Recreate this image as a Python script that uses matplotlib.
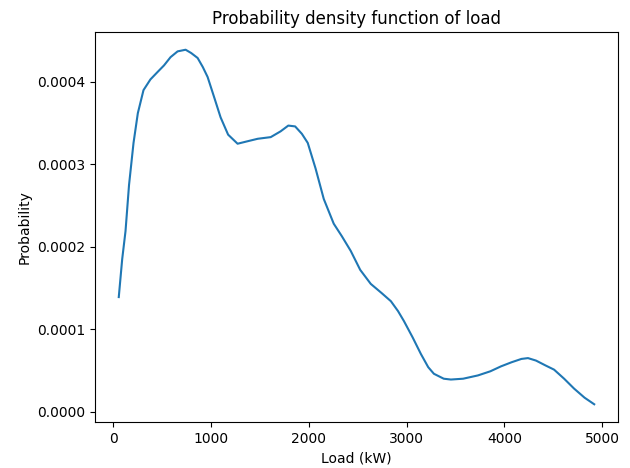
import matplotlib
matplotlib.use("Agg")
import matplotlib.pyplot as plt
import numpy as np

load_kw = [54, 89, 123, 159, 205, 249, 307, 378, 451, 517, 584, 656, 738, 795, 861,
           914, 963, 1034, 1096, 1173, 1270, 1372, 1476, 1609, 1710, 1789, 1859, 1928,
           1988, 2068, 2152, 2254, 2336, 2428, 2525, 2633, 2743, 2839, 2912, 2972, 3062,
           3146, 3221, 3279, 3380, 3453, 3578, 3730, 3857, 3966, 4075, 4175, 4242, 4324,
           4423, 4509, 4612, 4714, 4821, 4920]
density_e4 = [1.39, 1.85, 2.19, 2.75, 3.26, 3.62, 3.90, 4.03, 4.12, 4.20, 4.30, 4.37, 4.39,
              4.35, 4.29, 4.18, 4.06, 3.80, 3.57, 3.36, 3.25, 3.28, 3.31, 3.33, 3.40, 3.47,
              3.46, 3.37, 3.26, 2.95, 2.58, 2.28, 2.13, 1.95, 1.72, 1.55, 1.44, 1.34, 1.22,
              1.10, 0.90, 0.70, 0.54, 0.46, 0.40, 0.39, 0.40, 0.44, 0.49, 0.55, 0.60, 0.64,
              0.65, 0.62, 0.56, 0.51, 0.40, 0.28, 0.17, 0.09]
density = [d * 1e-4 for d in density_e4]

fig = plt.figure(figsize=(6.3, 4.68), dpi=100)
ax = fig.add_axes([95 / 630, 1 - 422 / 468, (618 - 95) / 630, (422 - 32) / 468])
ax.plot(load_kw, density, color="#1f77b4")
ax.set_title("Probability density function of load")
ax.set_xlabel("Load (kW)")
ax.set_ylabel("Probability")
fig.savefig("out.png", dpi=100)
